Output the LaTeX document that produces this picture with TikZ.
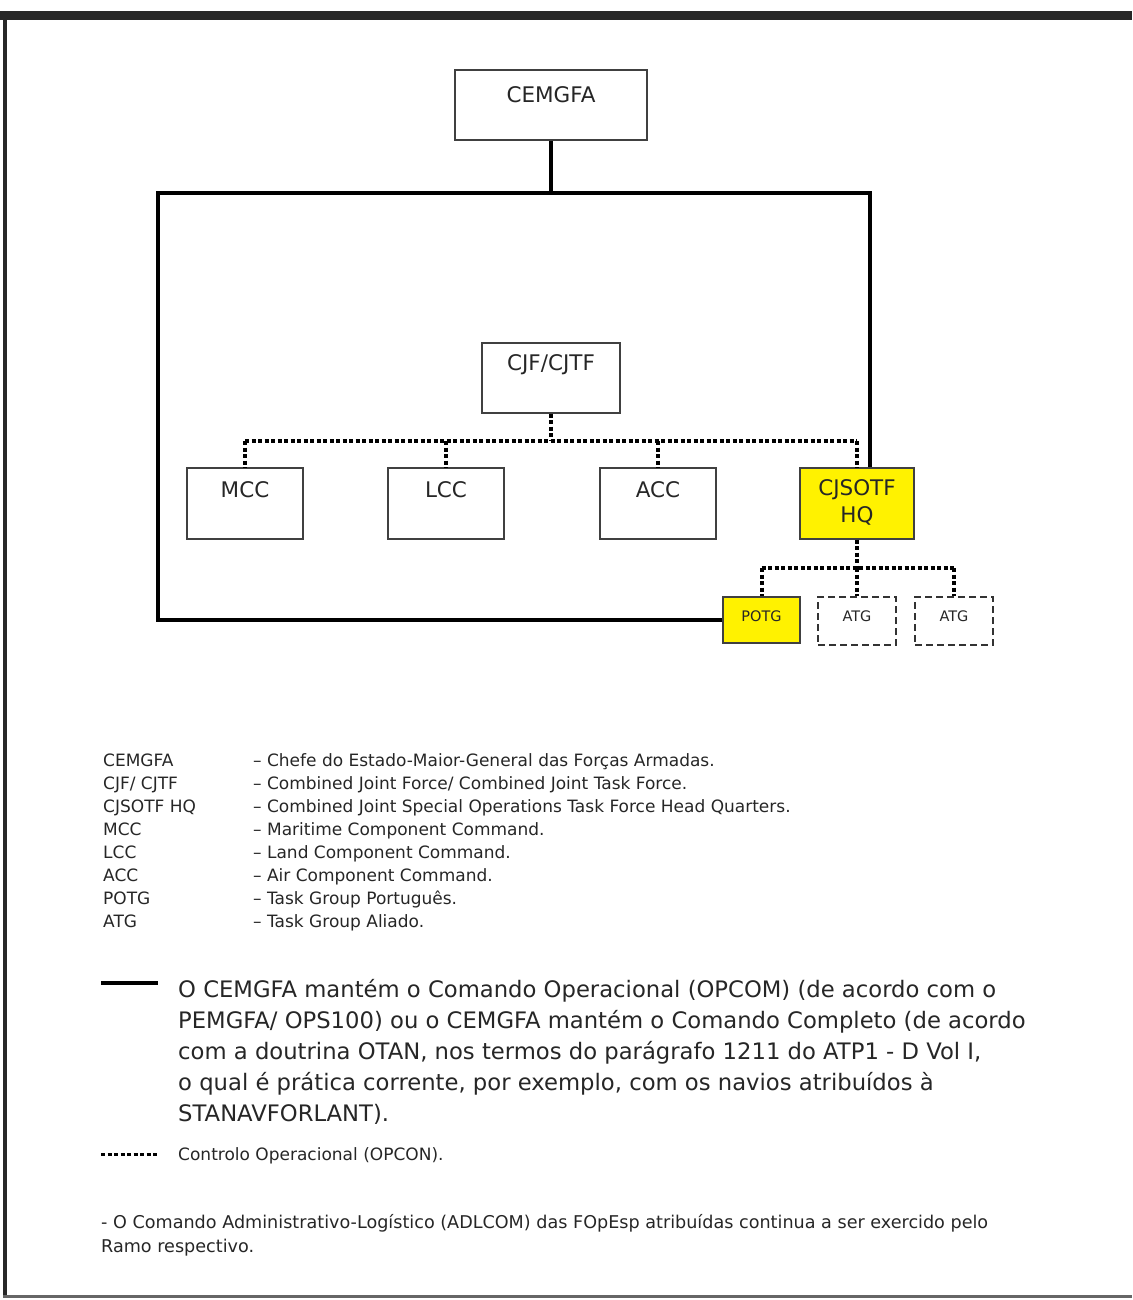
\documentclass[tikz,border=0pt]{standalone}
\usepackage{fontspec}
\setmainfont{DejaVu Sans}
\usetikzlibrary{calc}
\definecolor{boxyellow}{RGB}{255,242,0}
\definecolor{framegray}{RGB}{40,40,40}
\begin{document}
\begin{tikzpicture}[x=1pt,y=-1pt,
  box/.style={draw=black!75, line width=1.3pt, inner sep=0pt},
  ybox/.style={box, fill=boxyellow},
  dbox/.style={draw=black!80, line width=2pt, dash pattern=on 7pt off 4pt, inner sep=0pt},
  opcom/.style={line width=4pt, black},
  opcon/.style={line width=4pt, black, dash pattern=on 4pt off 2.5pt},
  boxtext/.style={font=\fontsize{21.5}{26}\selectfont, text=black!85, inner sep=0pt},
  smalltext/.style={font=\fontsize{14.5}{18}\selectfont, text=black!85, inner sep=0pt},
  legtext/.style={font=\fontsize{17}{20}\selectfont, text=black!85, inner sep=0pt, anchor=base west},
  notetext/.style={font=\fontsize{17.6}{20}\selectfont, text=black!85, inner sep=0pt, anchor=base west},
  bigtext/.style={font=\fontsize{22.7}{31}\selectfont, text=black!85, inner sep=0pt, anchor=base west},
]
\useasboundingbox (0,0) rectangle (1132,1300);
% frame
\fill[framegray] (0,11) rectangle (1132,20);
\fill[framegray] (3,11) rectangle (7,1298);
\fill[black!60] (3,1295) rectangle (1132,1298);

% boxes
\node[box, minimum width=192, minimum height=70] (cemgfa) at (551,105) {};
\node[boxtext] (cemgfat) at (551,95) {CEMGFA};
\node[box, minimum width=138, minimum height=70] (cjf) at (551,378) {};
\node[boxtext] (cjft) at (551,365) {CJF/CJTF};
\node[box, minimum width=116, minimum height=71] (mcc) at (245,503.5) {};
\node[boxtext] (mcct) at (245,490) {MCC};
\node[box, minimum width=116, minimum height=71] (lcc) at (446,503.5) {};
\node[boxtext] (lcct) at (446,490) {LCC};
\node[box, minimum width=116, minimum height=71] (acc) at (658,503.5) {};
\node[boxtext] (acct) at (658,490) {ACC};
\node[ybox, minimum width=114, minimum height=71] (cjsotf) at (857,503.5) {};
\node[boxtext] (cjsotft1) at (857,490) {CJSOTF};
\node[boxtext] (cjsotft2) at (857,516) {HQ};
\node[ybox, minimum width=77, minimum height=46] (potg) at (761.5,620) {};
\node[smalltext] (potgt) at (761.5,616) {POTG};
\node[dbox, minimum width=78, minimum height=48] (atga) at (857,621) {};
\node[smalltext] (atgat) at (857,616) {ATG};
\node[dbox, minimum width=78, minimum height=48] (atgb) at (954,621) {};
\node[smalltext] (atgbt) at (954,616) {ATG};

% OPCOM lines
\coordinate (tl) at (158,193);
\coordinate (tr) at (870,193);
\coordinate (tm) at (551,193);
\draw[opcom] (cemgfa.south) -- (tm);
\draw[opcom, line join=miter] (potg.west) -| (tl) -- (tr) -- (tr |- cjsotf.north);

% OPCON lines
\coordinate (h1) at (551,441);
\draw[opcon] (cjf.south) -- (h1);
\draw[opcon] (mcc.north |- h1) -- (cjsotf.north |- h1);
\foreach \n in {mcc,lcc,acc,cjsotf} \draw[opcon] (\n.north |- h1) -- (\n.north);
\coordinate (h2) at (857,568);
\draw[opcon] (cjsotf.south) -- (h2);
\draw[opcon] (potg.north |- h2) -- (atgb.north |- h2);
\foreach \n in {potg,atga,atgb} \draw[opcon] (\n.north |- h2) -- (\n.north);

% legend
\foreach \ab/\tx [count=\i from 0] in {CEMGFA/Chefe do Estado-Maior-General das Forças Armadas.,
  {CJF/ CJTF}/{Combined Joint Force/ Combined Joint Task Force.},
  CJSOTF HQ/Combined Joint Special Operations Task Force Head Quarters.,
  MCC/Maritime Component Command.,
  LCC/Land Component Command.,
  ACC/Air Component Command.,
  POTG/Task Group Português.,
  ATG/Task Group Aliado.}{
  \node[legtext] (la\i) at (103,766+23*\i) {\ab};
  \node[legtext] (lb\i) at (253,766+23*\i) {– \tx};
}

% line legend
\coordinate (s1) at (101,983);
\coordinate (s2) at (158,983);
\draw[line width=4.5pt] (s1) -- (s2);
\node[bigtext] (p1) at (178,997) {O CEMGFA mantém o Comando Operacional (OPCOM) (de acordo com o};
\node[bigtext] (p2) at (178,1028) {PEMGFA/ OPS100) ou o CEMGFA mantém o Comando Completo (de acordo};
\node[bigtext] (p3) at (178,1059) {com a doutrina OTAN, nos termos do parágrafo 1211 do ATP1 - D Vol I,};
\node[bigtext] (p4) at (178,1090) {o qual é prática corrente, por exemplo, com os navios atribuídos à};
\node[bigtext] (p5) at (178,1121) {STANAVFORLANT).};

\coordinate (d1) at (101,1154);
\coordinate (d2) at (158,1154);
\draw[line width=3pt, dash pattern=on 4pt off 2.5pt] (d1) -- (d2);
\node[legtext] (c1) at (178,1160) {Controlo Operacional (OPCON).};

\node[notetext] (n1) at (101,1228) {- O Comando Administrativo-Logístico (ADLCOM) das FOpEsp atribuídas continua a ser exercido pelo};
\node[notetext] (n2) at (101,1252) {Ramo respectivo.};
\end{tikzpicture}
\end{document}
